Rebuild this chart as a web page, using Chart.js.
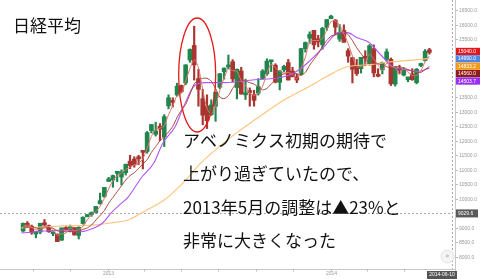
<!DOCTYPE html>
<html>
<head>
<meta charset="utf-8">
<script src="https://cdn.jsdelivr.net/npm/chart.js@4.4.1/dist/chart.umd.min.js"></script>
<style>
  html, body { margin: 0; padding: 0; background: #fff; }
  canvas { display: block; }
</style>
</head>
<body>
<canvas id="chart" width="480" height="279"></canvas>
<script>
// weekly candles, week 0 = 2012-08-13 ... week 95 = 2014-06-09
const opens = [8890, 9160, 9060, 8790, 8860, 9180, 9080, 8800, 8780, 8580, 9010, 8920, 9010, 8740, 9150, 9390, 9460, 9530, 9830, 10080,
  10600, 10650, 10880, 10750, 10900, 11300, 11370, 11400, 11650, 11630, 12350, 12220, 12500, 12130, 13200, 13360, 13570, 13900, 13990, 14780,
  15280, 14140, 13450, 13200, 12900, 13190, 13840, 14380, 14540, 14720, 13830, 14400, 13580, 13700, 13590, 13640, 14140, 14300, 14720, 14600,
  14010, 14440, 14690, 14400, 14200, 14290, 15170, 15530, 15800, 15510, 15300, 15900, 16200, 16150, 15500, 15800, 15100, 14860, 14560, 14480,
  14900, 14650, 15170, 14280, 14440, 14800, 14800, 13950, 14500, 14260, 14100, 14300, 14000, 14590, 14760, 15130];
const highs = [9170, 9220, 9100, 8880, 9160, 9290, 9100, 8860, 8800, 9000, 9060, 9100, 9010, 9040, 9380, 9460, 9550, 9740, 10200, 10400,
  10740, 10820, 10950, 11000, 11200, 11500, 11450, 11500, 11660, 12320, 12560, 12640, 12590, 12900, 13580, 13480, 13980, 13920, 14620, 15160,
  15942, 14460, 13770, 13580, 13410, 13680, 14310, 14510, 14950, 14790, 14470, 14530, 14120, 13820, 13740, 14140, 14450, 14820, 14750, 14650,
  14420, 14600, 14800, 14530, 14300, 15180, 15400, 15750, 15800, 15630, 15900, 16180, 16320, 16170, 16000, 15990, 15170, 14870, 14800, 14850,
  15100, 15310, 15300, 14480, 14710, 15160, 14850, 14550, 14600, 14520, 14180, 14480, 14490, 14670, 15140, 15180];
const lows = [8880, 9050, 8780, 8660, 8800, 9050, 8850, 8730, 8530, 8570, 8930, 8860, 8750, 8620, 9130, 9380, 9400, 9510, 9820, 10050,
  10600, 10400, 10590, 10480, 10820, 11040, 11090, 11180, 11030, 11570, 12270, 12160, 12000, 11800, 13100, 13160, 13530, 13650, 13930, 14700,
  14090, 13190, 12550, 12420, 12870, 12670, 13790, 14120, 14480, 14030, 13440, 13600, 13420, 13190, 13190, 13570, 14120, 14250, 14380, 13990,
  13750, 14380, 14090, 14200, 14000, 14270, 15050, 15350, 15150, 15230, 15150, 15800, 16200, 15640, 15420, 15390, 14700, 13990, 14250, 14330,
  14580, 14600, 14200, 14200, 14300, 14740, 13900, 13880, 14300, 14230, 14030, 14080, 13960, 14550, 14740, 14980];
const closes = [9160, 9070, 8840, 8870, 9160, 9110, 8870, 8860, 8530, 9000, 8930, 9050, 8760, 9020, 9370, 9450, 9530, 9740, 9940, 10395,
  10690, 10800, 10910, 10930, 11190, 11150, 11170, 11380, 11600, 12280, 12560, 12340, 12400, 12830, 13480, 13320, 13880, 13690, 14610, 15140,
  14610, 13770, 12880, 12690, 13230, 13670, 14310, 14500, 14590, 14130, 14460, 13610, 13650, 13660, 13390, 13860, 14400, 14740, 14760, 14020,
  14400, 14560, 14090, 14200, 14090, 15170, 15380, 15660, 15300, 15400, 15870, 16170, 16290, 15910, 15730, 15390, 14910, 14460, 14310, 14870,
  14840, 15270, 14330, 14220, 14700, 15060, 13960, 14520, 14430, 14460, 14200, 14100, 14460, 14630, 15080, 15040];

// moving averages (weekly points, same weeks as candles)
const maFast = [9050, 9100, 9020, 8930, 8960, 9050, 9050, 8950, 8750, 8800, 8820, 9000, 8910, 8940, 9050, 9280, 9450, 9570, 9740, 10020,
  10340, 10630, 10800, 10880, 11010, 11090, 11170, 11230, 11380, 11750, 12150, 12390, 12430, 12520, 12900, 13200, 13560, 13630, 14060, 14480,
  14790, 14510, 13760, 13110, 12930, 13200, 13740, 14160, 14470, 14410, 14390, 14070, 13910, 13640, 13570, 13640, 13880, 14330, 14630, 14510,
  14390, 14330, 14350, 14280, 14130, 14490, 14880, 15400, 15450, 15450, 15520, 15810, 16100, 16120, 15980, 15680, 15340, 14920, 14560, 14550,
  14670, 14990, 14810, 14610, 14420, 14660, 14570, 14510, 14300, 14470, 14360, 14250, 14250, 14400, 14720, 14920];
const maMid = [9000, 9020, 9020, 9000, 8980, 9000, 9010, 8990, 8900, 8880, 8870, 8880, 8880, 8880, 8950, 9000, 9100, 9270, 9430, 9600,
  9850, 10050, 10250, 10450, 10650, 10800, 10900, 11050, 11200, 11350, 11600, 11800, 12000, 12150, 12300, 12500, 12800, 13050, 13250, 13600,
  13950, 14100, 14150, 14150, 14050, 13800, 13500, 13450, 13550, 13800, 14000, 14100, 14050, 14000, 13950, 13850, 13750, 13800, 13950, 14100,
  14250, 14300, 14300, 14350, 14300, 14250, 14350, 14600, 14800, 15000, 15250, 15450, 15600, 15650, 15700, 15750, 15650, 15450, 15200, 15000,
  14800, 14700, 14650, 14650, 14600, 14550, 14500, 14550, 14550, 14500, 14450, 14400, 14350, 14350, 14450, 14560];
// slower averages, sparse points (week, value)
const purpleWeeks = [0, 10, 14, 17, 19, 21, 23, 25, 28, 31, 33, 36, 38, 40.5, 43, 47.5, 54.5, 60.3, 63, 65, 67.2, 70.8, 74.2, 76.3, 78.4, 81.3, 84, 86.8, 89.7, 92.5, 95.4];
const purpleVals = [8830, 8930, 8870, 9000, 9170, 9520, 9800, 10070, 10720, 11240, 11900, 12500, 13200, 13900, 14000, 14000, 14100, 14170, 14280, 14450, 14720, 15240, 15720, 15720, 15550, 15380, 14960, 14550, 14450, 14380, 14500];
const orangeWeeks = [0, 10.4, 16.7, 20.9, 25.1, 29.3, 33.5, 37.8, 42, 46.2, 50.4, 54.6, 61.5, 67.2, 71.4, 75.6, 81.3, 86.8, 92.5, 95.4];
const orangeVals = [9000, 9070, 9100, 9170, 9280, 9620, 9970, 10550, 11240, 11790, 12280, 12720, 13410, 13860, 14210, 14520, 14620, 14720, 14790, 14833];

const yTicks = [8000, 8500, 9000, 9500, 10000, 10500, 11000, 11500, 12000, 12500, 13000, 13500, 14000, 14500, 15000, 15500, 16000, 16500];
const xTickDates = ['2012-09-01', '2012-11-01', '2013-01-01', '2013-03-01', '2013-05-01', '2013-07-01', '2013-09-01', '2013-11-01', '2014-01-01', '2014-03-01', '2014-05-01'];
const xTickLabels = { '2013-01-01': '2013', '2014-01-01': '2014' };
const lastLabels = ['15040.0', '14990.0', '14833.2', '14560.0', '14503.7'];
const lastValues = [15040, 14990, 14833.2, 14560, 14503.7];
const lastColors = ['#e3171b', '#4f86e8', '#f59a1b', '#8e1c1c', '#9b30f5'];
const crossLevel = 9500;
const crossLabel = '9029.6';
const dateLabel = '2014-06-10';
const title = '日経平均';
const notes = ['アベノミクス初期の期待で', '上がり過ぎていたので、', '2013年5月の調整は▲23%と', '非常に大きくなった'];

const t0 = Date.UTC(2012, 7, 13);
const weekOf = (d) => (Date.parse(d + 'T00:00:00Z') - t0) / (7 * 864e5);
const upColor = '#21864d';
const downColor = '#a83530';
const candleColors = closes.map((c, i) => (c >= opens[i] ? upColor : downColor));

const decor = {
  id: 'decor',
  beforeDatasetsDraw(chart) {
    const { ctx, chartArea: a, scales: { y } } = chart;
    ctx.save();
    ctx.strokeStyle = '#aaa';
    ctx.lineWidth = 1;
    ctx.setLineDash([2, 2]);
    const cy = Math.round(y.getPixelForValue(crossLevel)) + 0.5;
    ctx.beginPath();
    ctx.moveTo(a.left, cy);
    ctx.lineTo(a.right, cy);
    ctx.stroke();
    ctx.beginPath();
    ctx.moveTo(a.right + 0.5, a.top);
    ctx.lineTo(a.right + 0.5, a.bottom);
    ctx.stroke();
    ctx.restore();
  },
  afterDraw(chart) {
    const { ctx, chartArea: a, scales: { x, y } } = chart;
    ctx.save();
    // right axis
    ctx.strokeStyle = '#c8c8c8';
    ctx.lineWidth = 1;
    ctx.beginPath();
    ctx.moveTo(a.right + 3.5, a.top);
    ctx.lineTo(a.right + 3.5, a.bottom + 10);
    ctx.stroke();
    ctx.font = '5px "Liberation Sans", Arial, sans-serif';
    ctx.textBaseline = 'middle';
    ctx.textAlign = 'left';
    yTicks.forEach((v) => {
      const py = Math.round(y.getPixelForValue(v)) + 0.5;
      ctx.strokeStyle = '#bbb';
      ctx.beginPath();
      ctx.moveTo(a.right + 3.5, py);
      ctx.lineTo(a.right + 6, py);
      ctx.stroke();
      ctx.fillStyle = '#999';
      ctx.fillText(v.toFixed(1), a.right + 7, py);
    });
    // last-value boxes
    let prev = -100;
    lastValues.forEach((v, i) => {
      let py = Math.max(y.getPixelForValue(v) - 1, prev + 7.4);
      prev = py;
      ctx.fillStyle = lastColors[i];
      ctx.fillRect(a.right + 4, py - 3.6, 24, 7.2);
      ctx.fillStyle = '#fff';
      ctx.fillText(lastLabels[i], a.right + 6, py + 0.2);
    });
    // crosshair label
    const cy = y.getPixelForValue(crossLevel);
    ctx.fillStyle = '#5a5a5a';
    ctx.fillRect(a.right + 4, cy - 4, 22, 8);
    ctx.fillStyle = '#fff';
    ctx.fillText(crossLabel, a.right + 6, cy + 0.2);
    // x axis
    ctx.strokeStyle = '#c8c8c8';
    ctx.beginPath();
    ctx.moveTo(0, a.bottom + 0.5);
    ctx.lineTo(a.right + 3, a.bottom + 0.5);
    ctx.stroke();
    ctx.textAlign = 'center';
    xTickDates.forEach((d) => {
      const px = Math.round(x.getPixelForValue(weekOf(d))) + 0.5;
      ctx.strokeStyle = '#bbb';
      ctx.beginPath();
      ctx.moveTo(px, a.bottom);
      ctx.lineTo(px, a.bottom + 2.5);
      ctx.stroke();
      if (xTickLabels[d]) {
        ctx.fillStyle = '#999';
        ctx.fillText(xTickLabels[d], px, a.bottom + 5);
      }
    });
    ctx.fillStyle = '#555';
    ctx.fillRect(a.right - 25, a.bottom + 2, 30, 8);
    ctx.fillStyle = '#fff';
    ctx.fillText(dateLabel, a.right - 10, a.bottom + 6);
    // scroll button
    ctx.beginPath();
    ctx.arc(a.right - 4.5, 256.5, 6.5, 0, Math.PI * 2);
    ctx.fillStyle = '#f5f5f5';
    ctx.fill();
    ctx.strokeStyle = '#e2e2e2';
    ctx.stroke();
    ctx.fillStyle = '#999';
    ctx.font = '7px "DejaVu Sans", sans-serif';
    ctx.fillText('»', a.right - 4.5, 256);
    // red ellipse around the May 2013 top
    const ex = x.getPixelForValue(40.4);
    ctx.beginPath();
    ctx.ellipse(ex + 3, 75, 18.5, 57, 0, 0, Math.PI * 2);
    ctx.strokeStyle = '#e31b1b';
    ctx.lineWidth = 1.3;
    ctx.stroke();
    // texts
    ctx.fillStyle = '#111';
    ctx.textAlign = 'left';
    ctx.font = '17px "Noto Sans CJK JP", sans-serif';
    ctx.fillText(title, 13, 26);
    notes.forEach((t, i) => ctx.fillText(t, 183, 140.5 + i * 33.4));
    ctx.restore();
  }
};

const ctx = document.getElementById('chart').getContext('2d');
new Chart(ctx, {
  data: {
    datasets: [
      {
        type: 'line', label: '短期', order: 0,
        data: maFast.map((v, i) => ({ x: i + 0.4, y: v })),
        borderColor: '#e2766c', borderWidth: 1, pointRadius: 0, tension: 0.3
      },
      {
        type: 'line', label: '中期', order: 0,
        data: maMid.map((v, i) => ({ x: i + 0.4, y: v })),
        borderColor: '#a8443a', borderWidth: 1, pointRadius: 0, tension: 0.2
      },
      {
        type: 'line', label: '紫', order: 0,
        data: purpleWeeks.map((w, i) => ({ x: w, y: purpleVals[i] })),
        borderColor: '#b356f5', borderWidth: 1.1, pointRadius: 0, cubicInterpolationMode: 'monotone'
      },
      {
        type: 'line', label: '橙', order: 0,
        data: orangeWeeks.map((w, i) => ({ x: w, y: orangeVals[i] })),
        borderColor: '#ffc47e', borderWidth: 1.2, pointRadius: 0, cubicInterpolationMode: 'monotone'
      },
      {
        type: 'bar', label: 'ヒゲ', order: 2, grouped: false,
        data: highs.map((h, i) => ({ x: i + 0.4, y: [lows[i], h] })),
        backgroundColor: candleColors, barThickness: 1.5
      },
      {
        type: 'bar', label: '実体', order: 1, grouped: false,
        data: opens.map((o, i) => ({ x: i + 0.4, y: [o, closes[i]] })),
        backgroundColor: candleColors, barThickness: 4, minBarLength: 2
      }
    ]
  },
  options: {
    responsive: false,
    animation: false,
    layout: { padding: { left: 0, right: 28, top: 0, bottom: 10 } },
    plugins: { legend: { display: false }, tooltip: { enabled: false } },
    scales: {
      x: { type: 'linear', min: 0.28, max: 95.4, display: false },
      y: { type: 'linear', min: 7587, max: 16844, display: false }
    }
  },
  plugins: [decor]
});
</script>
</body>
</html>
